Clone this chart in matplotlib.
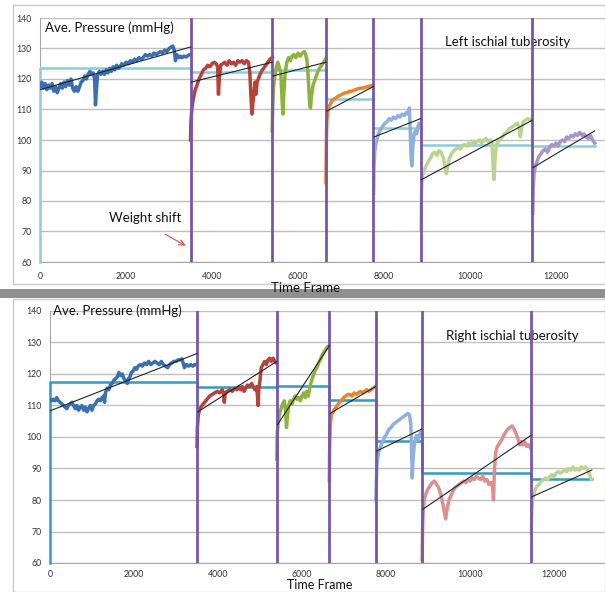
#!/usr/bin/env python3
# -*- coding: utf-8 -*-

"""
Average seat pressure under the left and right ischial tuberosity,
split into sitting periods by weight shifts.
"""

import matplotlib
matplotlib.use("Agg")
import matplotlib.pyplot as plt
from matplotlib.patches import Rectangle

plt.rcParams['font.family'] = ['Lato', 'DejaVu Sans']

# Segment boundaries (time frames); inner ones are the weight shifts
boundaries = [0, 3500, 5400, 6650, 7750, 8850, 11450, 12900]

# Left ischial tuberosity, one list of (time, pressure) per period
left_seg1 = [(0, 117.5), (40, 119), (80, 117), (120, 118.5), (160, 116.5), (200, 118), (240, 117),
             (280, 118.5), (320, 116), (360, 117.5), (400, 115.5), (440, 117), (480, 118.5), (520, 117),
             (560, 119), (600, 117.5), (640, 119.5), (680, 118), (720, 120), (760, 117), (800, 116),
             (840, 117.5), (880, 116), (920, 117.5), (960, 119), (1000, 119.5), (1040, 121), (1080, 120),
             (1120, 121.5), (1160, 122.5), (1200, 121.5), (1240, 122), (1270, 120), (1290, 111.5),
             (1310, 116), (1340, 121.5), (1380, 122.5), (1420, 121.5), (1460, 122.5), (1500, 121.5),
             (1540, 123), (1580, 122), (1620, 123.5), (1660, 122.5), (1700, 124), (1740, 123),
             (1780, 124.5), (1820, 123.5), (1860, 124), (1900, 125), (1950, 124.5), (2000, 125.5),
             (2050, 125), (2100, 126), (2150, 125.5), (2200, 126.5), (2250, 126), (2300, 127),
             (2350, 126.5), (2400, 127), (2450, 128), (2500, 127.5), (2550, 128), (2600, 127.5),
             (2650, 128.5), (2700, 128), (2750, 128.5), (2800, 129), (2850, 128.5), (2900, 129.5),
             (2950, 129), (3000, 130), (3050, 130.5), (3090, 130.8), (3120, 129.5), (3150, 126),
             (3180, 128), (3220, 127), (3260, 127.5), (3300, 127), (3350, 127.5), (3400, 127.2),
             (3450, 127.8), (3490, 128)]
left_seg2 = [(3500, 100), (3510, 106), (3530, 110), (3560, 113), (3600, 116), (3650, 118), (3700, 120),
             (3750, 121.5), (3800, 123), (3850, 123.5), (3900, 124.5), (3950, 124), (4000, 125),
             (4050, 125.5), (4100, 125), (4130, 124), (4150, 115), (4170, 120), (4200, 124.5),
             (4250, 125), (4300, 125.5), (4350, 124.5), (4400, 126), (4450, 125), (4500, 125.5),
             (4550, 124.5), (4600, 126), (4650, 125.5), (4700, 126), (4750, 125), (4800, 126),
             (4850, 125.5), (4880, 122), (4910, 113), (4930, 108.5), (4950, 112), (4980, 116),
             (5000, 119), (5020, 115), (5050, 119), (5100, 121), (5150, 122.5), (5200, 123.5),
             (5250, 124.5), (5300, 125.5), (5350, 126.5), (5400, 127)]
left_seg3 = [(5400, 103), (5410, 110), (5430, 117), (5460, 121), (5500, 124), (5530, 125.5), (5560, 124),
             (5600, 122), (5630, 113), (5650, 108.5), (5670, 115), (5700, 122), (5740, 125.5),
             (5780, 127), (5820, 126), (5860, 127.5), (5900, 128), (5950, 127), (6000, 128.5),
             (6050, 127.5), (6100, 128.5), (6150, 129), (6180, 128), (6210, 126), (6240, 120),
             (6270, 112), (6290, 110.5), (6310, 114), (6350, 118), (6400, 120), (6450, 122),
             (6500, 123.5), (6550, 124.5), (6600, 125.5), (6640, 126.5)]
left_seg4 = [(6650, 86), (6660, 100), (6670, 106), (6690, 109), (6720, 111), (6760, 112), (6800, 113),
             (6850, 113.5), (6900, 114), (6950, 114.5), (7000, 114.8), (7050, 115.2), (7100, 115.5),
             (7150, 115.5), (7200, 116), (7250, 116), (7300, 116.3), (7350, 116.6), (7400, 116.8),
             (7450, 117), (7500, 117), (7550, 117.2), (7600, 117.4), (7650, 117.6), (7700, 117.8),
             (7740, 118)]
left_seg5 = [(7760, 82.5), (7770, 92), (7785, 96), (7800, 98), (7830, 100), (7870, 102), (7920, 103.5),
             (7970, 104.5), (8020, 105.5), (8070, 106), (8120, 107), (8170, 106.5), (8220, 107.5),
             (8270, 107), (8320, 108), (8370, 107.5), (8420, 108.5), (8470, 108), (8520, 109),
             (8560, 108.5), (8590, 110.5), (8610, 103), (8630, 94), (8650, 91.5), (8670, 98),
             (8700, 102), (8730, 103), (8760, 102), (8790, 104.5), (8820, 105.5), (8845, 105)]
left_seg6 = [(8860, 70.5), (8870, 82), (8890, 88), (8930, 90), (8980, 91.5), (9030, 93), (9080, 94),
             (9130, 95.5), (9180, 96), (9230, 95), (9280, 96.5), (9330, 96), (9380, 94), (9420, 91),
             (9450, 89), (9480, 91), (9520, 94), (9570, 95.5), (9620, 96.5), (9670, 97), (9720, 97.5),
             (9770, 97), (9820, 98), (9870, 98.5), (9920, 98), (9970, 99), (10020, 98.5), (10070, 99.5),
             (10120, 99), (10170, 99.5), (10220, 100), (10270, 99), (10320, 100), (10370, 100.5),
             (10420, 99.5), (10470, 100), (10510, 99), (10540, 91), (10560, 87), (10580, 93),
             (10610, 98), (10650, 99.5), (10700, 100), (10750, 101), (10800, 102), (10850, 102.5),
             (10900, 103.5), (10950, 104), (11000, 104.5), (11050, 105), (11100, 105.5), (11140, 104),
             (11170, 101), (11200, 104), (11240, 106), (11290, 106.5), (11340, 107), (11400, 106.5),
             (11440, 107)]
left_seg7 = [(11460, 76), (11470, 84), (11490, 89), (11520, 91.5), (11560, 93), (11600, 94.5),
             (11650, 95.5), (11700, 96.5), (11750, 97), (11800, 96), (11850, 97.5), (11900, 98.5),
             (11950, 98), (12000, 99), (12050, 98), (12100, 99.5), (12150, 100), (12200, 99.5),
             (12250, 101), (12300, 100.5), (12350, 101.5), (12400, 101), (12450, 102), (12500, 101.5),
             (12550, 102.5), (12600, 101.5), (12650, 102), (12700, 101), (12750, 100.5), (12800, 101.5),
             (12850, 100), (12900, 99)]

# Right ischial tuberosity
right_seg1 = [(0, 112), (40, 111.5), (80, 112), (120, 111.5), (160, 112.5), (200, 111.5), (240, 111),
              (280, 110.5), (320, 110), (360, 109.5), (400, 109), (440, 110), (480, 110.5), (520, 111),
              (560, 110), (600, 109), (640, 110), (680, 108.5), (720, 109.5), (760, 110), (800, 108.5),
              (840, 109.5), (880, 108), (920, 109), (960, 110), (1000, 108.5), (1040, 110), (1080, 110.5),
              (1120, 111.5), (1160, 112), (1200, 111.5), (1240, 112.5), (1280, 113), (1300, 111),
              (1320, 114), (1360, 115.5), (1400, 115), (1440, 116.5), (1480, 117), (1520, 118),
              (1560, 118.5), (1600, 119), (1640, 120.5), (1680, 119.5), (1720, 120), (1760, 118.5),
              (1800, 118), (1840, 117), (1870, 118.5), (1900, 119), (1940, 120.5), (1980, 121),
              (2020, 122), (2060, 121.5), (2100, 122.5), (2150, 123), (2200, 122.5), (2250, 123.5),
              (2300, 123), (2350, 124), (2400, 123), (2450, 123.5), (2500, 124), (2550, 123.5),
              (2600, 123), (2650, 124), (2700, 123), (2750, 122.5), (2800, 122), (2850, 123),
              (2900, 123.5), (2950, 124), (3000, 124), (3050, 124.5), (3100, 124.5), (3140, 124.8),
              (3170, 123.5), (3200, 122), (3250, 123), (3300, 122.5), (3350, 123), (3400, 122.5),
              (3450, 123), (3490, 123)]
right_seg2 = [(3500, 97), (3510, 103), (3530, 107), (3570, 109), (3620, 110), (3680, 111), (3740, 112),
              (3800, 113), (3860, 113.5), (3920, 114), (3980, 114.5), (4040, 114), (4100, 115),
              (4130, 114), (4150, 111), (4170, 114), (4220, 114.5), (4280, 115), (4340, 114.5),
              (4400, 115.5), (4450, 115), (4500, 116), (4540, 115), (4580, 116), (4620, 114.5),
              (4660, 115.5), (4700, 116.5), (4750, 116), (4800, 117), (4840, 116), (4880, 115),
              (4920, 116), (4940, 113), (4955, 110), (4970, 115), (5000, 118), (5030, 122), (5070, 123),
              (5110, 124), (5150, 123), (5190, 124.5), (5230, 125), (5270, 124), (5310, 125),
              (5350, 124), (5390, 123.5)]
right_seg3 = [(5400, 93), (5410, 101), (5430, 104), (5460, 107), (5500, 109), (5540, 110.5), (5580, 111.5),
              (5610, 108), (5630, 103), (5650, 106), (5680, 110), (5720, 111.5), (5760, 110.5),
              (5800, 112), (5840, 113), (5880, 112), (5920, 112.5), (5960, 111.5), (6000, 113),
              (6040, 114), (6080, 112.5), (6110, 114.5), (6150, 113), (6190, 116), (6230, 118),
              (6270, 119.5), (6310, 121), (6350, 122), (6400, 123.5), (6450, 125), (6500, 126.5),
              (6550, 127.5), (6600, 128.5), (6640, 129)]
right_seg4 = [(6650, 86), (6660, 98), (6675, 104), (6700, 107), (6740, 108), (6790, 109), (6840, 110),
              (6890, 111), (6940, 111.5), (6990, 112.5), (7040, 113), (7090, 113.5), (7140, 113.5),
              (7190, 113), (7240, 114), (7290, 113.5), (7340, 114), (7390, 114.5), (7440, 114),
              (7490, 114.5), (7540, 115), (7590, 114.5), (7640, 115), (7690, 115.5), (7740, 116)]
right_seg5 = [(7760, 80), (7770, 86), (7785, 91), (7800, 93), (7830, 95.5), (7870, 97), (7920, 98.5),
              (7970, 100), (8020, 101), (8070, 102.5), (8120, 103), (8170, 104), (8220, 104.5),
              (8270, 105), (8320, 105.5), (8370, 106), (8420, 106.5), (8470, 107), (8520, 107.5),
              (8560, 107), (8590, 104), (8610, 95), (8625, 87), (8640, 92), (8670, 97), (8700, 99.5),
              (8730, 100.5), (8760, 99), (8790, 100), (8820, 101.5), (8845, 101)]
right_seg6 = [(8860, 61), (8870, 70), (8885, 77), (8910, 80), (8950, 82), (9000, 83.5), (9050, 84.5),
              (9100, 85.5), (9150, 86), (9200, 85), (9250, 84), (9300, 82), (9350, 79), (9390, 76),
              (9420, 74), (9450, 77), (9500, 80), (9550, 81.5), (9600, 83), (9650, 84), (9700, 84.5),
              (9750, 85), (9800, 85.5), (9850, 86), (9900, 85.5), (9950, 86.5), (10000, 86),
              (10050, 87), (10100, 86.5), (10150, 87.5), (10200, 87), (10250, 86.5), (10300, 87.5),
              (10350, 86), (10400, 86.5), (10450, 85), (10500, 85.5), (10540, 84), (10560, 80),
              (10580, 89), (10610, 95), (10650, 97), (10700, 98), (10750, 99), (10800, 100.5),
              (10850, 101.5), (10900, 102.5), (10950, 103), (11000, 103.5), (11050, 102.5),
              (11100, 101), (11140, 99.5), (11180, 97.5), (11220, 98.5), (11260, 97.5), (11300, 98.5),
              (11350, 97), (11400, 97.5), (11440, 96.5)]
right_seg7 = [(11460, 69.5), (11470, 76), (11490, 80), (11520, 82), (11560, 83.5), (11600, 84.5),
              (11650, 85), (11700, 86), (11750, 86.5), (11800, 87), (11850, 86.5), (11900, 87.5),
              (11950, 88), (12000, 87.5), (12050, 88.5), (12100, 89), (12150, 88.5), (12200, 89),
              (12250, 89.5), (12300, 89), (12350, 90), (12400, 89.5), (12450, 90.5), (12500, 89.5),
              (12550, 90), (12600, 89.5), (12650, 90.5), (12700, 90), (12750, 90.5), (12800, 89.5),
              (12850, 88), (12890, 86.5)]

# Mean pressure per period
left_means = [123.5, 122.2, 122.8, 113.3, 103.8, 98.4, 98.0]
right_means = [117.4, 115.8, 116.1, 111.7, 98.8, 88.7, 86.6]

# Linear trend per period: (start value, end value)
left_trends = [(116.5, 130.5), (119.0, 125.5), (121.0, 125.5), (109.5, 117.5),
               (101.0, 107.0), (87.0, 106.5), (91.0, 103.0)]
right_trends = [(108.3, 126.5), (108.0, 124.0), (104.0, 129.0), (107.5, 116.0),
                (95.5, 102.5), (77.0, 100.5), (81.0, 89.5)]

left_colors = ['#3b6fb2', '#b5423b', '#8db33f', '#ea8430', '#91afdc', '#b9d48f', '#a894cb']
right_colors = ['#3b6fb2', '#b5423b', '#8db33f', '#ea8430', '#91afdc', '#d9908e', '#b9d48f']

x_ticks = [0, 2000, 4000, 6000, 8000, 10000, 12000]
y_ticks = [60, 70, 80, 90, 100, 110, 120, 130, 140]

W, H = 605, 592


def px_axes(fig, left, top, right, bottom):
    """Axes placed by pixel edges of the 605x592 canvas."""
    return fig.add_axes([left / W, 1 - bottom / H, (right - left) / W, (bottom - top) / H])


def draw_panel(ax, segments, means, trends, colors, mean_color, label, xmax, xpad=7):
    """Draw one pressure panel: raw data, step mean, trend lines and shift markers."""
    ax.set_xlim(0, xmax)
    ax.set_ylim(60, 140)
    ax.set_xticks(x_ticks)
    ax.set_yticks(y_ticks)
    ax.tick_params(length=0, labelsize=6.3, labelcolor='#333333')
    ax.tick_params(axis='x', pad=xpad)
    ax.tick_params(axis='y', pad=6)
    for side in ['top', 'right']:
        ax.spines[side].set_visible(False)
    for side in ['left', 'bottom']:
        ax.spines[side].set_color('#a6a6a6')
    ax.grid(axis='y', color='#bfbfbf', linewidth=1.0)
    ax.set_axisbelow(True)

    # step line of the period means, starting from the x axis at t=0
    step_x = [boundaries[0]]
    step_y = [60]
    for i, m in enumerate(means):
        step_x += [boundaries[i], boundaries[i + 1]]
        step_y += [m, m]
    ax.plot(step_x, step_y, color=mean_color, linewidth=1.8, zorder=2.8, clip_on=False)

    # raw pressure traces
    for seg, col in zip(segments, colors):
        t = [p[0] for p in seg]
        v = [p[1] for p in seg]
        ax.plot(t, v, color=col, linewidth=2.5, solid_joinstyle='round', zorder=3)

    # weight shift markers
    for b in boundaries[1:-1]:
        ax.axvline(b, color='#7558a6', linewidth=2.0, zorder=4)

    # trend lines
    for i, (a, b) in enumerate(trends):
        x0 = boundaries[i] + (20 if i > 0 else 0)
        ax.plot([x0, boundaries[i + 1]], [a, b], color='#222222', linewidth=0.8, zorder=5)

    ax.text(9420, 132.0, label, fontsize=9.5, ha='left', va='center', color='#111111')


def main():
    fig = plt.figure(figsize=(W / 100, H / 100), dpi=100)
    fig.patch.set_facecolor('white')

    # panel frames and the shadow band between them
    fig.patches.append(Rectangle((13 / W, 1 - 284 / H), (W - 13) / W, 279 / H, transform=fig.transFigure,
                                 fill=False, edgecolor='#c8c8c8', linewidth=1.0))
    fig.patches.append(Rectangle((0, 1 - 298 / H), 1, 9 / H, transform=fig.transFigure,
                                 facecolor='#8f8f8f', edgecolor='none'))
    fig.patches.append(Rectangle((13 / W, 0), (W - 13) / W, 293 / H, transform=fig.transFigure,
                                 fill=False, edgecolor='#c8c8c8', linewidth=1.0))

    top = px_axes(fig, 40, 18, W, 262)
    draw_panel(top, [left_seg1, left_seg2, left_seg3, left_seg4, left_seg5, left_seg6, left_seg7],
               left_means, left_trends, left_colors, '#8ecbdc', 'Left ischial tuberosity',
               (W - 40) / 0.043)
    top.text(120, 139, 'Ave. Pressure (mmHg)', fontsize=9.5, ha='left', va='top', color='#111111')
    top.text(2450, 74.4, 'Weight shift', fontsize=9.5, ha='center', va='center', color='#111111')
    top.annotate('', xy=(3440, 64.9), xytext=(2860, 69.5),
                 arrowprops=dict(arrowstyle='->', color='#e0463e', linewidth=0.8))
    fig.text(306 / W, 1 - 288 / H, 'Time Frame', fontsize=9.5, ha='center', va='center', color='#111111')

    bottom = px_axes(fig, 50, 311, W, 563)
    draw_panel(bottom, [right_seg1, right_seg2, right_seg3, right_seg4, right_seg5, right_seg6, right_seg7],
               right_means, right_trends, right_colors, '#329cc0', 'Right ischial tuberosity',
               (W - 50) / 0.042, xpad=5)
    bottom.text(70, 140, 'Ave. Pressure (mmHg)', fontsize=9.5, ha='left', va='center', color='#111111')
    fig.text(320 / W, 1 - 585 / H, 'Time Frame', fontsize=9, ha='center', va='center', color='#111111')

    fig.savefig('out.png', dpi=100)
    return 0


if __name__ == "__main__":
    main()
